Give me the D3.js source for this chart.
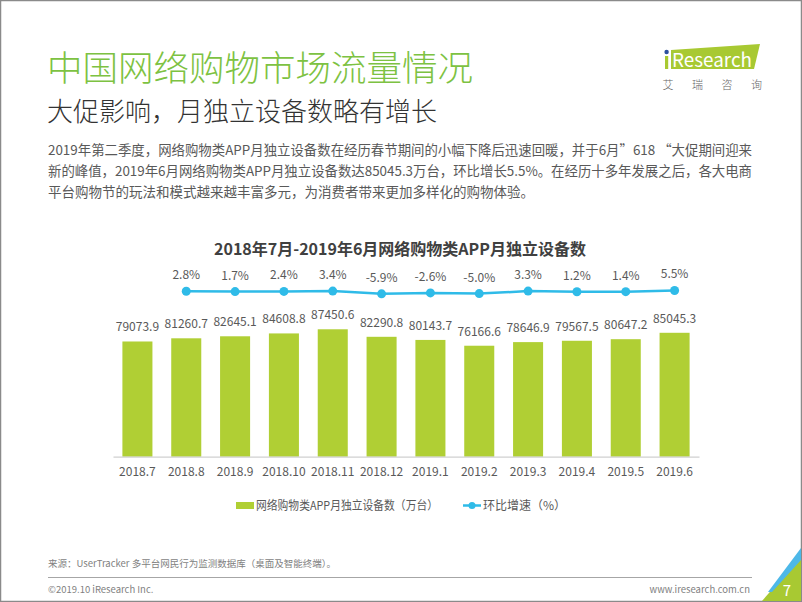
<!DOCTYPE html>
<html><head><meta charset="utf-8">
<script src="https://cdn.jsdelivr.net/npm/d3@7/dist/d3.min.js"></script>
<style>
html,body{margin:0;padding:0;background:#fff;}
svg{display:block;}
text{font-family:"Noto Sans CJK SC","Noto Sans",sans-serif;}
</style></head>
<body>
<svg id="chart" width="802" height="602"></svg>
<script>
const months = ["2018.7","2018.8","2018.9","2018.10","2018.11","2018.12","2019.1","2019.2","2019.3","2019.4","2019.5","2019.6"];
const devices = [79073.9,81260.7,82645.1,84608.8,87450.6,82290.8,80143.7,76166.6,78646.9,79567.5,80647.2,85045.3];
const growthMonths = ["2018.8","2018.9","2018.10","2018.11","2018.12","2019.1","2019.2","2019.3","2019.4","2019.5","2019.6"];
const growth = [2.8,1.7,2.4,3.4,-5.9,-2.6,-5.0,3.3,1.2,1.4,5.5];
const title = "中国网络购物市场流量情况";
const subtitle = "大促影响，月独立设备数略有增长";
const bodyLines = [
  "2019年第二季度，网络购物类APP月独立设备数在经历春节期间的小幅下降后迅速回暖，并于6月”618 “大促期间迎来",
  "新的峰值，2019年6月网络购物类APP月独立设备数达85045.3万台，环比增长5.5%。在经历十多年发展之后，各大电商",
  "平台购物节的玩法和模式越来越丰富多元，为消费者带来更加多样化的购物体验。"
];
const chartTitle = "2018年7月-2019年6月网络购物类APP月独立设备数";
const legendLabels = ["网络购物类APP月独立设备数（万台）","环比增速（%）"];
const sourceText = "来源：UserTracker 多平台网民行为监测数据库（桌面及智能终端）。";

const GREEN = "#b0cf34", BLUE = "#2fbbe8", TXT = "#595959";
const svg = d3.select("#chart");
const fmt = d => d3.format(".1f")(d).replace("\u2212","-");

// border
svg.append("rect").attr("x",0.5).attr("y",0.5).attr("width",801).attr("height",601)
  .attr("fill","none").attr("stroke","#8a8a8a").attr("stroke-width",1.5);

// header
svg.append("text").attr("x",47).attr("y",81).attr("font-size",35.5).attr("font-weight",300)
  .attr("fill","#7dc242").text(title);
svg.append("text").attr("x",47).attr("y",121).attr("font-size",26).attr("font-weight",300)
  .attr("fill","#333").text(subtitle);
bodyLines.forEach((l,i)=>{
  const t = svg.append("text").attr("x",48).attr("y",155+i*21).attr("font-size",13.5)
    .attr("fill",TXT).text(l);
  if(i<2) t.attr("textLength",704).attr("lengthAdjust","spacingAndGlyphs");
});

// logo
svg.append("polygon").attr("points","671,50 760,44 754,69 671,69").attr("fill","#a8c932");
svg.append("rect").attr("x",665).attr("y",56).attr("width",3.2).attr("height",13).attr("fill","#a8c932");
svg.append("circle").attr("cx",666.6).attr("cy",52).attr("r",2.2).attr("fill","#2b4f9e");
svg.append("text").attr("x",672).attr("y",67).attr("font-size",19).attr("fill","#fff")
  .attr("font-family","Liberation Sans Narrow, DejaVu Sans Condensed, sans-serif")
  .attr("textLength",80).attr("lengthAdjust","spacingAndGlyphs").text("Research");
["艾","瑞","咨","询"].forEach((c,i)=>{
  svg.append("text").attr("x",668+i*29.5).attr("y",89).attr("font-size",11)
    .attr("text-anchor","middle").attr("fill","#666").attr("font-weight",300).text(c);
});

// chart title
svg.append("text").attr("x",400).attr("y",255).attr("text-anchor","middle")
  .attr("font-size",16).attr("font-weight",700).attr("fill","#404040").text(chartTitle);

// scales
const x = d3.scaleBand().domain(months).range([113,699]).paddingInner(0.385).paddingOuter(0.1925);
const y = d3.scaleLinear().domain([0,100000]).range([456.7,311]);
const y2 = d3.scaleLinear().domain([-6,6]).range([293.9,290.3]);

// bars
svg.append("g").selectAll("rect").data(devices).join("rect")
  .attr("x",(d,i)=>x(months[i])).attr("width",x.bandwidth())
  .attr("y",d=>y(d)).attr("height",d=>y(0)-y(d)).attr("fill",GREEN);

svg.append("g").selectAll("text").data(devices).join("text")
  .attr("x",(d,i)=>x(months[i])+x.bandwidth()/2).attr("y",d=>y(d)-10)
  .attr("text-anchor","middle").attr("font-size",12).attr("fill",TXT)
  .text(d=>fmt(d));

// x axis
const xAxis = d3.axisBottom(x).tickSize(0).tickPadding(11);
const gx = svg.append("g").attr("transform",`translate(0,${y(0)})`).call(xAxis);
gx.select(".domain").attr("stroke","#d0d0d0").attr("stroke-width",1.2);
gx.selectAll("text").attr("font-size",12).attr("fill",TXT)
  .attr("font-family","Noto Sans CJK SC, sans-serif");

// line
const cx = (m)=>x(m)+x.bandwidth()/2;
const line = d3.line().x((d,i)=>cx(growthMonths[i])).y(d=>y2(d));
svg.append("path").datum(growth).attr("d",line).attr("fill","none")
  .attr("stroke",BLUE).attr("stroke-width",2.5);
svg.append("g").selectAll("circle").data(growth).join("circle")
  .attr("cx",(d,i)=>cx(growthMonths[i])).attr("cy",d=>y2(d)).attr("r",4.5).attr("fill",BLUE);
svg.append("g").selectAll("text").data(growth).join("text")
  .attr("x",(d,i)=>cx(growthMonths[i])).attr("y",d=>y2(d)-12)
  .attr("text-anchor","middle").attr("font-size",12).attr("fill",TXT)
  .text(d=>fmt(d)+"%");

// legend
svg.append("rect").attr("x",236).attr("y",502).attr("width",18).attr("height",7).attr("fill",GREEN);
svg.append("text").attr("x",256).attr("y",510).attr("font-size",12).attr("fill",TXT)
  .attr("textLength",182).attr("lengthAdjust","spacingAndGlyphs").text(legendLabels[0]);
svg.append("line").attr("x1",463).attr("x2",481).attr("y1",505.5).attr("y2",505.5)
  .attr("stroke",BLUE).attr("stroke-width",2.5);
svg.append("circle").attr("cx",472).attr("cy",505.5).attr("r",3.5).attr("fill",BLUE);
svg.append("text").attr("x",483).attr("y",510).attr("font-size",12).attr("fill",TXT).text(legendLabels[1]);

// footer
svg.append("text").attr("x",48).attr("y",567).attr("font-size",9.5).attr("fill","#7f7f7f").text(sourceText);
svg.append("line").attr("x1",48).attr("x2",752).attr("y1",577.5).attr("y2",577.5)
  .attr("stroke","#a6a6a6").attr("stroke-width",1);
svg.append("text").attr("x",48).attr("y",593).attr("font-size",9.5).attr("fill","#7f7f7f").text("©2019.10 iResearch Inc.");
svg.append("text").attr("x",750).attr("y",593).attr("text-anchor","end").attr("font-size",9.5).attr("fill","#7f7f7f").text("www.iresearch.com.cn");

// corner
svg.append("polygon").attr("points","801,556 801,601 762,601").attr("fill","#a8c932");
svg.append("polygon").attr("points","801,548 801,560 772,592 768,592").attr("fill","#4db8e8");
svg.append("text").attr("x",787).attr("y",596).attr("text-anchor","middle").attr("font-size",15)
  .attr("fill","#fff").text("7");
</script>
</body></html>
